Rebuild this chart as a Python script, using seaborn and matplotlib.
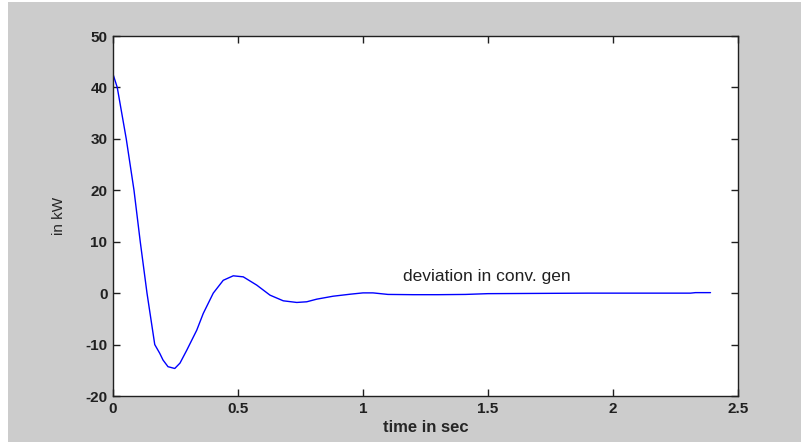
import numpy as np
import pandas as pd
import matplotlib
matplotlib.use("Agg")
import matplotlib.pyplot as plt
import seaborn as sns
from matplotlib.patches import Rectangle


# -----------------------------
# data
# -----------------------------
time_sec = [0, 0.017, 0.053, 0.084, 0.109, 0.136, 0.167, 0.187, 0.2, 0.22,
            0.247, 0.268, 0.295, 0.335, 0.361, 0.401, 0.441, 0.481, 0.521, 0.575,
            0.628, 0.681, 0.735, 0.775, 0.815, 0.88, 0.95, 1.0, 1.04, 1.1,
            1.2, 1.3, 1.41, 1.5, 1.7, 1.9, 2.1, 2.31, 2.33, 2.39]
deviation_kw = [42.6, 40, 30, 20, 10, 0, -10, -11.7, -13.0, -14.3,
                -14.65, -13.6, -11.1, -7.2, -3.95, 0, 2.5, 3.37, 3.17, 1.56,
                -0.39, -1.49, -1.81, -1.68, -1.17, -0.6, -0.2, 0.05, 0.05, -0.25,
                -0.3, -0.3, -0.25, -0.1, -0.05, 0, 0, 0, 0.1, 0.1]

x_ticks = [0, 0.5, 1, 1.5, 2, 2.5]
x_tick_labels = ["0", "0.5", "1", "1.5", "2", "2.5"]
y_ticks = [-20, -10, 0, 10, 20, 30, 40, 50]

df = pd.DataFrame({"t": time_sec, "dev": deviation_kw})


# -----------------------------
# style
# -----------------------------
sns.set_style("ticks")
plt.rcParams["font.family"] = ["Liberation Sans", "DejaVu Sans"]
plt.rcParams["axes.unicode_minus"] = False

fig = plt.figure(figsize=(8.01, 4.42), dpi=100, facecolor="white")
# grey MATLAB-like figure background (thin white margin on top/left)
fig.patches.append(Rectangle((8 / 801, 0), 1, 1 - 2 / 442, transform=fig.transFigure,
                             facecolor="#cccccc", edgecolor="none", zorder=-10))

ax = fig.add_axes([113 / 801, 1 - 396 / 442, 625 / 801, 360 / 442])
ax.set_facecolor("white")

sns.lineplot(data=df, x="t", y="dev", ax=ax, color="#0000ff", linewidth=1.0)

ax.set_xlim(0, 2.5)
ax.set_ylim(-20, 50)
ax.set_xticks(x_ticks)
ax.set_xticklabels(x_tick_labels)
ax.set_yticks(y_ticks)

ax.tick_params(direction="in", length=5, width=1, top=True, right=True,
               labelsize=11, pad=4, colors="#202020")
for lab in ax.get_xticklabels() + ax.get_yticklabels():
    lab.set_fontweight("bold")
for s in ax.spines.values():
    s.set_visible(True)
    s.set_linewidth(1.0)
    s.set_color("#202020")

ax.set_xlabel("time in sec", fontsize=12, fontweight="bold", labelpad=3)
ax.set_ylabel("in kW", fontsize=11, labelpad=14)

ax.text(1.161, 3.17, "deviation in conv. gen", fontsize=12.5,
        ha="left", va="center", color="#202020")

fig.savefig("out.png", dpi=100, facecolor=fig.get_facecolor())
